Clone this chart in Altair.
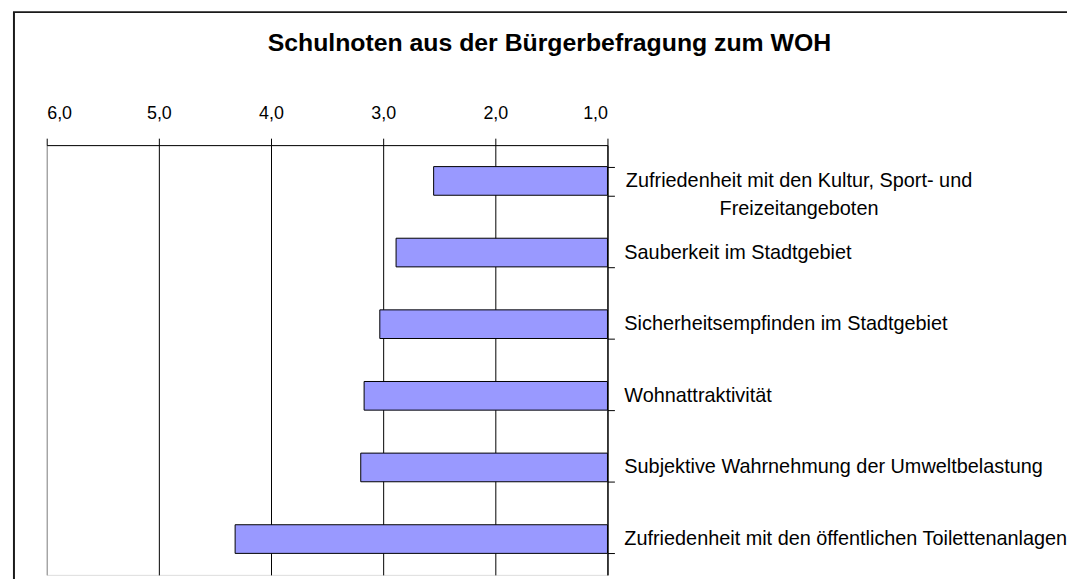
import altair as alt
import pandas as pd

categories = [
    "Zufriedenheit mit den Kultur, Sport- und\nFreizeitangeboten",
    "Sauberkeit im Stadtgebiet",
    "Sicherheitsempfinden im Stadtgebiet",
    "Wohnattraktivität",
    "Subjektive Wahrnehmung der Umweltbelastung",
    "Zufriedenheit mit den öffentlichen Toilettenanlagen",
]
grades = [2.55, 2.885, 3.03, 3.17, 3.20, 4.32]
tick_values = [1, 2, 3, 4, 5, 6]
title_text = "Schulnoten aus der Bürgerbefragung zum WOH"

df = pd.DataFrame({"label": categories, "grade": grades})

FONT = "Liberation Sans"

x_scale = alt.Scale(domain=[1, 6], reverse=True, nice=False, zero=False)
y_scale = alt.Scale(domain=categories, paddingInner=0.6, paddingOuter=0.3)

x_axis = alt.Axis(
    orient="top",
    values=tick_values,
    labelExpr="replace(format(datum.value, '.1f'), '.', ',')",
    labelFontSize=18,
    labelColor="black",
    labelPadding=16,
    labelFont=FONT,
    tickColor="black",
    tickSize=7,
    domainColor="black",
    grid=True,
    gridColor={"condition": {"test": "datum.value == 6", "value": "#888888"}, "value": "black"},
    gridOpacity=1,
    title=None,
)
y_axis = alt.Axis(
    orient="right",
    labels=False,
    tickBand="extent",
    tickColor="black",
    tickSize=7,
    domainColor="black",
    grid=False,
    title=None,
)

frame = alt.Chart(df).mark_rect(
    fill="transparent", stroke="#1a1a1a", strokeWidth=2, clip=False
).encode(
    x=alt.value(-33), x2=alt.value(1200), y=alt.value(-134), y2=alt.value(700)
).transform_filter("datum.grade == " + str(grades[0]))

bars = alt.Chart(df).mark_bar(
    fill="#9999FF", stroke="black", strokeWidth=1
).encode(
    x=alt.X("grade:Q", scale=x_scale, axis=x_axis),
    x2=alt.datum(1),
    y=alt.Y("label:N", scale=y_scale, sort=categories, axis=y_axis),
)

labels_single = alt.Chart(df).mark_text(
    align="left", baseline="middle", dx=17, fontSize=20, font=FONT, color="black",
    lineBreak="\n",
).encode(
    x=alt.datum(1),
    y=alt.Y("label:N", sort=categories),
    text="label:N",
).transform_filter("indexof(datum.label, '\\n') < 0")

labels_multi = alt.Chart(df).mark_text(
    align="center", baseline="middle", dx=193, fontSize=20, font=FONT, color="black",
    lineBreak="\n", lineHeight=28,
).encode(
    x=alt.datum(1),
    y=alt.Y("label:N", sort=categories),
    text="label:N",
).transform_filter("indexof(datum.label, '\\n') >= 0")

chart = alt.layer(frame, bars, labels_single, labels_multi).properties(
    width=565,
    height=433,
    title=alt.TitleParams(
        text=title_text, fontSize=25, fontWeight="bold", font=FONT, color="black",
        anchor="middle", frame="group", dx=224, offset=-45,
    ),
    autosize=alt.AutoSizeParams(type="none"),
    padding={"left": 39, "top": 136, "right": 463, "bottom": 2},
).configure_view(
    stroke="#888888", strokeWidth=1
).configure(font=FONT, background="white")

chart.save("out.html", embed_options={"renderer": "svg", "actions": False})
